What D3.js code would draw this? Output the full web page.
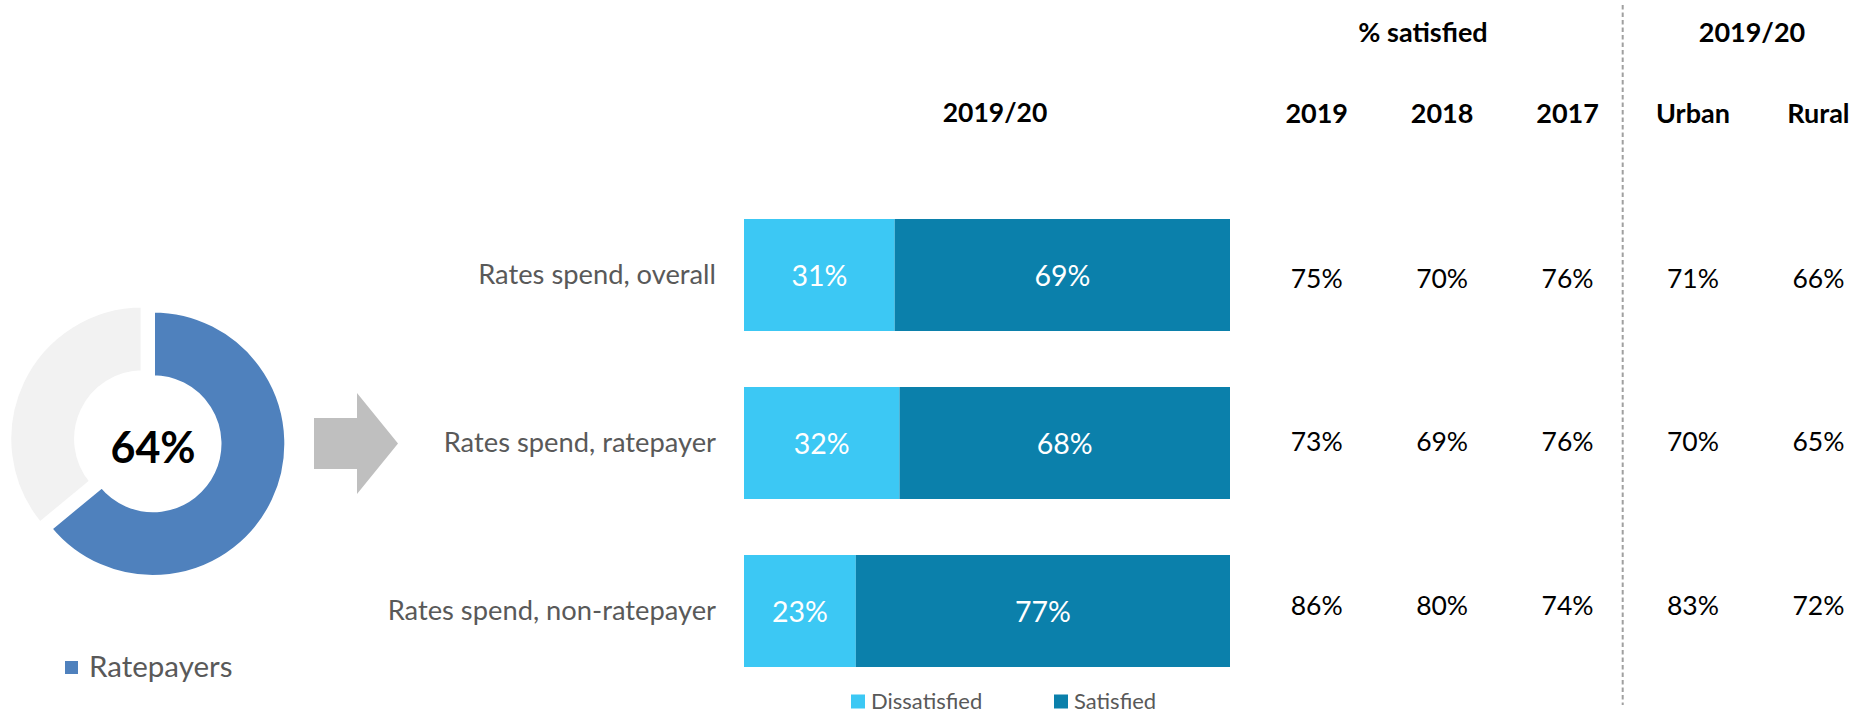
<!DOCTYPE html>
<html>
<head>
<meta charset="utf-8">
<script src="https://cdn.jsdelivr.net/npm/d3@7"></script>
<style>
  html, body { margin: 0; padding: 0; background: #fff; }
  svg { display: block; font-family: Lato, "Open Sans", sans-serif; }
</style>
</head>
<body>
<svg id="chart" width="1864" height="714"></svg>
<script>
// ---- data ----
const donutLabel = "Ratepayers";
const donutValues = [64, 36];            // ratepayers, rest
const categories = ["Rates spend, overall", "Rates spend, ratepayer", "Rates spend, non-ratepayer"];
const dissatisfied = [31, 32, 23];
const satisfied = [69, 68, 77];
const seriesNames = ["Dissatisfied", "Satisfied"];
const barHeader = "2019/20";
const tableColumns = ["2019", "2018", "2017", "Urban", "Rural"];
const col2019 = [75, 73, 86];
const col2018 = [70, 69, 80];
const col2017 = [76, 76, 74];
const colUrban = [71, 70, 83];
const colRural = [66, 65, 72];
const groupHeaders = ["% satisfied", "2019/20"];

const svg = d3.select("#chart");
const GREY_TEXT = "#595959";
const C_DIS = "#3CC8F4", C_SAT = "#0B80AB";

// ---- donut ----
const pie = d3.pie().sort(null).value(d => d)(donutValues);
const arc = d3.arc().innerRadius(66.5).outerRadius(133.3);
const donut = svg.append("g").attr("transform", "translate(153,443.7)");
const explode = [[0, 0], [-10.4, -4.9]];
donut.selectAll("path").data(pie).join("path")
  .attr("d", arc)
  .attr("transform", (d, i) => `translate(${explode[i][0]},${explode[i][1]})`)
  .attr("fill", (d, i) => i === 0 ? "#4F81BD" : "#F2F2F2")
  .attr("stroke", "#fff").attr("stroke-width", 4);
donut.append("text").attr("x", 0).attr("y", 19.5)
  .attr("text-anchor", "middle").attr("font-weight", "bold")
  .attr("font-size", 43).attr("fill", "#000")
  .text(donutValues[0] + "%");
// legend
svg.append("rect").attr("x", 65).attr("y", 661).attr("width", 13).attr("height", 13).attr("fill", "#4F81BD");
svg.append("text").attr("x", 89).attr("y", 677).attr("font-size", 29.5).attr("fill", GREY_TEXT).text(donutLabel);

// ---- arrow ----
svg.append("polygon")
  .attr("points", "314,418 357,418 357,393 398,443.5 357,494 357,469 314,469")
  .attr("fill", "#BFBFBF");

// ---- bars ----
const x = d3.scaleLinear().domain([0, 100]).range([744, 1230]);
const y = d3.scaleBand().domain(categories).range([191, 695]).paddingInner(1 / 3).paddingOuter(1 / 6);

const rows = categories.map((c, i) => ({ cat: c, dis: dissatisfied[i], sat: satisfied[i] }));
const bars = svg.append("g");
rows.forEach(r => {
  bars.append("rect").attr("x", x(0)).attr("y", y(r.cat)).attr("width", x(r.dis) - x(0))
    .attr("height", y.bandwidth()).attr("fill", C_DIS);
  bars.append("rect").attr("x", x(r.dis)).attr("y", y(r.cat)).attr("width", x(r.dis + r.sat) - x(r.dis))
    .attr("height", y.bandwidth()).attr("fill", C_SAT);
  const cy = y(r.cat) + y.bandwidth() / 2;
  bars.append("text").attr("x", (x(0) + x(r.dis)) / 2).attr("y", cy + 10.5)
    .attr("text-anchor", "middle").attr("font-size", 28.5).attr("fill", "#fff").text(r.dis + "%");
  bars.append("text").attr("x", (x(r.dis) + x(r.dis + r.sat)) / 2).attr("y", cy + 10.5)
    .attr("text-anchor", "middle").attr("font-size", 28.5).attr("fill", "#fff").text(r.sat + "%");
  bars.append("text").attr("x", 716).attr("y", cy + 9)
    .attr("text-anchor", "end").attr("font-size", 27.3).attr("fill", GREY_TEXT).text(r.cat);
});
svg.append("text").attr("x", 995).attr("y", 122.3).attr("text-anchor", "middle")
  .attr("font-weight", "bold").attr("font-size", 26.5).attr("fill", "#000").text(barHeader);

// bar legend
const legendItems = [
  { name: seriesNames[0], color: C_DIS, x: 851 },
  { name: seriesNames[1], color: C_SAT, x: 1054 }
];
legendItems.forEach(l => {
  svg.append("rect").attr("x", l.x).attr("y", 694.5).attr("width", 14).attr("height", 14).attr("fill", l.color);
  svg.append("text").attr("x", l.x + 20).attr("y", 708.5).attr("font-size", 22).attr("fill", GREY_TEXT).text(l.name);
});

// ---- table ----
const colX = d3.scalePoint().domain(tableColumns).range([1316.7, 1818.4]);
const rowY = d3.scalePoint().domain(categories).range([278.2, 605.5]);
const tableData = [col2019, col2018, col2017, colUrban, colRural];
const table = svg.append("g");
tableColumns.forEach((c, ci) => {
  table.append("text").attr("x", colX(c)).attr("y", 122.7).attr("text-anchor", "middle")
    .attr("font-weight", "bold").attr("font-size", 27).attr("fill", "#000").text(c);
  categories.forEach((cat, ri) => {
    table.append("text").attr("x", colX(c)).attr("y", rowY(cat) + 9.3)
      .attr("text-anchor", "middle").attr("font-size", 26.5).attr("fill", "#000")
      .text(tableData[ci][ri] + "%");
  });
});
table.append("text").attr("x", 1423).attr("y", 41.7).attr("text-anchor", "middle")
  .attr("font-weight", "bold").attr("font-size", 27).attr("fill", "#000").text(groupHeaders[0]);
table.append("text").attr("x", 1752).attr("y", 41.7).attr("text-anchor", "middle")
  .attr("font-weight", "bold").attr("font-size", 27).attr("fill", "#000").text(groupHeaders[1]);

// dashed separator
svg.append("line").attr("x1", 1622.7).attr("x2", 1622.7).attr("y1", 5).attr("y2", 705)
  .attr("stroke", "#A0A0A0").attr("stroke-width", 2).attr("stroke-dasharray", "4.5,3");
</script>
</body>
</html>
